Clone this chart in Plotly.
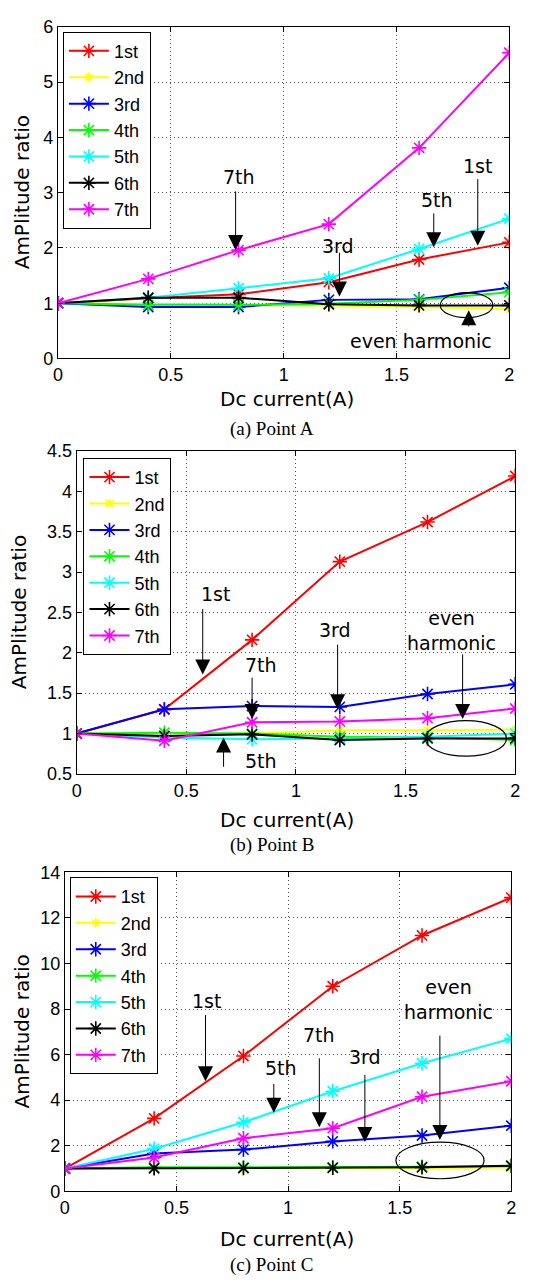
import plotly.graph_objects as go

# ---------------- data ----------------
current = [0, 0.4, 0.8, 1.2, 1.6, 2.0]
harmonics = ["1st", "2nd", "3rd", "4th", "5th", "6th", "7th"]

pointA = {
    "1st": [1, 1.09, 1.16, 1.38, 1.79, 2.10],
    "2nd": [1, 0.98, 0.97, 0.96, 0.93, 0.90],
    "3rd": [1, 0.93, 0.93, 1.06, 1.07, 1.28],
    "4th": [1, 0.97, 0.97, 0.99, 1.06, 1.20],
    "5th": [1, 1.10, 1.27, 1.45, 1.98, 2.53],
    "6th": [1, 1.10, 1.10, 0.98, 0.96, 0.96],
    "7th": [1, 1.44, 1.96, 2.43, 3.81, 5.53],
}
pointB = {
    "1st": [1, 1.30, 2.16, 3.13, 3.62, 4.19],
    "2nd": [1, 1.00, 1.00, 1.04, 1.04, 1.05],
    "3rd": [1, 1.30, 1.34, 1.33, 1.49, 1.61],
    "4th": [1, 1.01, 1.00, 0.96, 0.95, 0.92],
    "5th": [1, 0.95, 0.93, 0.94, 0.96, 1.00],
    "6th": [1, 0.97, 0.99, 0.92, 0.94, 0.94],
    "7th": [1, 0.91, 1.14, 1.15, 1.19, 1.31],
}
pointC = {
    "1st": [1, 3.20, 5.94, 9.00, 11.23, 12.89],
    "2nd": [1, 1.00, 1.00, 1.00, 1.02, 1.05],
    "3rd": [1, 1.66, 1.83, 2.19, 2.45, 2.88],
    "4th": [1, 1.05, 1.05, 1.05, 1.08, 1.10],
    "5th": [1, 1.87, 3.03, 4.39, 5.62, 6.70],
    "6th": [1, 1.01, 1.02, 1.03, 1.05, 1.12],
    "7th": [1, 1.48, 2.33, 2.77, 4.15, 4.83],
}
x_ticks = [0, 0.5, 1, 1.5, 2]
captions = ["(a) Point A", "(b) Point B", "(c) Point C"]
x_title = "Dc current(A)"
y_title = "AmPlitude ratio"

colors = {"1st": "#ff0000", "2nd": "#ffff00", "3rd": "#0000ff", "4th": "#00ff00",
          "5th": "#00ffff", "6th": "#000000", "7th": "#ff00ff"}

W, H = 533, 1283
# panel plot-area pixel boxes: (left, right, top, bottom)
boxes = [(54, 514, 17, 354), (73, 520, 448, 776), (61, 516, 876, 1200)]
yranges = [[0, 6], [0.5, 4.5], [0, 14]]
ydticks = [1, 0.5, 2]
legend_pos = [(59, 22), (80, 455), (66, 881)]
xtitle_y = [395, 823, 1248]
caption_y = [426, 848, 1275]
ytitle_x = [17, 15, 17]

fig = go.Figure()
datasets = [pointA, pointB, pointC]
for p, data in enumerate(datasets):
    sfx = "" if p == 0 else str(p + 1)
    for h in harmonics:
        small = h == "2nd"
        fig.add_trace(go.Scatter(
            x=current, y=data[h], name=h, mode="lines+markers",
            xaxis="x" + sfx, yaxis="y" + sfx,
            legend="legend" + sfx, legendgroup=h + sfx,
            line=dict(color=colors[h], width=2),
            marker=dict(symbol="asterisk-open", size=8 if small else 12,
                        color=colors[h], line=dict(color=colors[h], width=1.6)),
        ))

font_tick = dict(family="Liberation Sans, Arial", size=18, color="black")
font_ann = dict(family="DejaVu Sans", size=19, color="black")
font_title = dict(family="DejaVu Sans", size=20, color="black")

layout = dict(width=W, height=H, margin=dict(l=0, r=0, t=0, b=0),
              paper_bgcolor="white", plot_bgcolor="white", showlegend=True)
annotations = []
shapes = []
for p in range(3):
    sfx = "" if p == 0 else str(p + 1)
    l, r, t, b = boxes[p]
    axcommon = dict(showline=True, linecolor="black", linewidth=1, mirror="ticks",
                    ticks="inside", ticklen=5, tickcolor="black",
                    showgrid=True, gridcolor="#555", griddash="1px,3px", gridwidth=1,
                    zeroline=False, tickfont=font_tick)
    layout["xaxis" + sfx] = dict(axcommon, domain=[l / W, r / W], range=[0, 2],
                                 tickvals=x_ticks, anchor="y" + sfx)
    layout["yaxis" + sfx] = dict(axcommon, domain=[1 - b / H, 1 - t / H],
                                 range=yranges[p], dtick=ydticks[p], anchor="x" + sfx)
    lx, ly = legend_pos[p]
    layout["legend" + sfx] = dict(x=lx / W, y=1 - ly / H, xanchor="left", yanchor="top",
                                  bordercolor="black", borderwidth=1, bgcolor="white",
                                  font=dict(family="Liberation Sans, Arial", size=18, color="black"),
                                  tracegroupgap=0, traceorder="grouped", itemwidth=40)
    annotations.append(dict(text=x_title, xref="paper", yref="paper",
                            x=287 / W, y=1 - xtitle_y[p] / H,
                            xanchor="center", yanchor="middle",
                            showarrow=False, font=font_title))
    annotations.append(dict(text=y_title, xref="paper", yref="paper",
                            x=ytitle_x[p] / W, y=1 - ((t + b) / 2) / H, textangle=-90,
                            xanchor="center", yanchor="middle",
                            showarrow=False, font=font_title))
    annotations.append(dict(text=captions[p], xref="paper", yref="paper",
                            x=272 / W, y=1 - caption_y[p] / H, showarrow=False,
                            xanchor="center", yanchor="middle",
                            font=dict(family="Liberation Serif, Times New Roman", size=19, color="black")))

# in-plot labels: (panel, text, x, y)
labels = [
    (0, "7th", 0.80, 3.28), (0, "1st", 1.86, 3.49), (0, "5th", 1.68, 2.87),
    (0, "3rd", 1.24, 2.03), (0, "even harmonic", 1.61, 0.31),
    (1, "1st", 0.635, 2.73), (1, "7th", 0.84, 1.85), (1, "3rd", 1.18, 2.28),
    (1, "5th", 0.84, 0.66), (1, "even<br>harmonic", 1.71, 2.28),
    (2, "1st", 0.636, 8.35), (2, "7th", 1.14, 6.84), (2, "3rd", 1.345, 5.9),
    (2, "5th", 0.97, 5.42), (2, "even<br>harmonic", 1.72, 8.4),
]
# arrows: (panel, x, y_tail, y_head)
arrows = [
    (0, 0.787, 3.05, 1.96), (0, 1.86, 3.27, 2.04), (0, 1.665, 2.65, 2.01),
    (0, 1.247, 1.94, 1.12), (0, 1.82, 0.55, 0.87),
    (1, 0.575, 2.56, 1.73), (1, 0.80, 1.71, 1.18), (1, 1.19, 2.12, 1.30),
    (1, 0.67, 0.57, 0.95), (1, 1.76, 2.0, 1.18),
    (2, 0.63, 7.8, 4.83), (2, 1.14, 5.9, 2.81), (2, 1.344, 5.18, 2.16),
    (2, 0.936, 4.78, 3.45), (2, 1.68, 6.9, 2.25),
]
# ellipses: (panel, x0, x1, y0, y1)
ellipses = [(0, 1.694, 1.927, 0.74, 1.19), (1, 1.59, 1.96, 0.72, 1.16),
            (2, 1.483, 1.878, 0.55, 2.16)]

for p, txt, x, y in labels:
    sfx = "" if p == 0 else str(p + 1)
    annotations.append(dict(text=txt, x=x, y=y, xref="x" + sfx, yref="y" + sfx,
                            xanchor="center", yanchor="middle",
                            showarrow=False, font=font_ann))
for p, x, yt, yh in arrows:
    sfx = "" if p == 0 else str(p + 1)
    annotations.append(dict(text="", x=x, y=yh, ax=x, ay=yt, xref="x" + sfx, yref="y" + sfx,
                            axref="x" + sfx, ayref="y" + sfx, showarrow=True,
                            arrowhead=2, arrowsize=3, arrowwidth=1, arrowcolor="black"))
for p, x0, x1, y0, y1 in ellipses:
    sfx = "" if p == 0 else str(p + 1)
    shapes.append(dict(type="circle", xref="x" + sfx, yref="y" + sfx,
                       x0=x0, x1=x1, y0=y0, y1=y1, line=dict(color="black", width=1.2)))

layout["annotations"] = annotations
layout["shapes"] = shapes
fig.update_layout(layout)
fig.write_html("out.html")
